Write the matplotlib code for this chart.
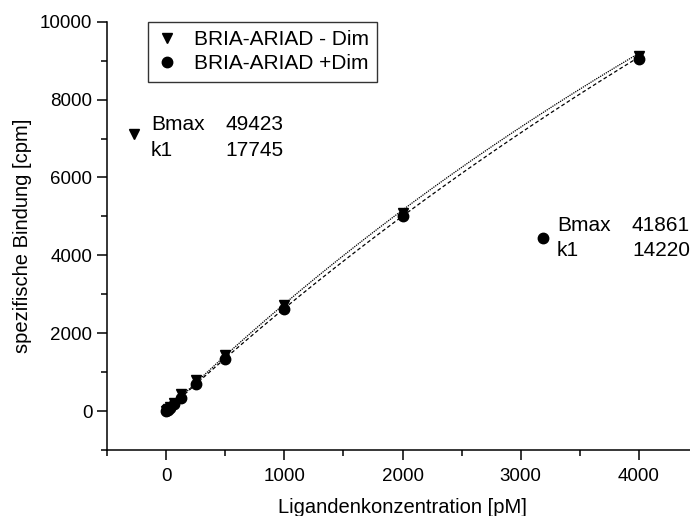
import matplotlib.pyplot as plt
import numpy as np
from matplotlib.ticker import MultipleLocator

plt.rcParams["font.family"] = ["Liberation Sans", "DejaVu Sans"]

# ligand concentrations [pM]
conc = [0, 7.8, 15.6, 31.25, 62.5, 125, 250, 500, 1000, 2000, 4000]
# specific binding [cpm]
bind_minus_dim = [0, 30, 60, 110, 220, 440, 800, 1430, 2730, 5100, 9120]
bind_plus_dim = [0, 20, 40, 80, 170, 340, 690, 1340, 2630, 5000, 9050]

# one-site binding fit parameters
fit_a = {"Bmax": 49423, "k1": 17745}
fit_b = {"Bmax": 41861, "k1": 14220}

label_minus = "BRIA-ARIAD - Dim"
label_plus = "BRIA-ARIAD +Dim"


def one_site(x, bmax, k1):
    return bmax * x / (k1 + x)


def param_block(ax, marker, mx, my, tx, vx, y_top, y_bot, fit):
    ax.plot([mx], [my], marker=marker, markersize=7.5, color="black", clip_on=False)
    ax.text(tx, y_top, "Bmax", fontsize=15, va="center", ha="left")
    ax.text(vx, y_top, str(fit["Bmax"]), fontsize=15, va="center", ha="left")
    ax.text(tx, y_bot, "k1", fontsize=15, va="center", ha="left")
    ax.text(vx, y_bot, str(fit["k1"]), fontsize=15, va="center", ha="left")


fig = plt.figure(figsize=(6.9, 5.16), dpi=100)
ax = fig.add_axes([0.1551, 0.1279, 0.8565, 0.830])

xs = np.linspace(0, 4000, 200)
ax.plot(xs, one_site(xs, fit_b["Bmax"], fit_b["k1"]), color="black",
        linestyle=(0, (1, 0.8)), linewidth=0.9)
ax.plot(xs, one_site(xs, fit_a["Bmax"], fit_a["k1"]), color="black",
        linestyle=(0, (3, 2)), linewidth=0.9)

ax.plot(conc, bind_minus_dim, linestyle="none", marker="v", markersize=7.5,
        color="black", label=label_minus)
ax.plot(conc, bind_plus_dim, linestyle="none", marker="o", markersize=7.5,
        color="black", label=label_plus)

param_block(ax, "v", -271, 7127, -127, 500, 7350, 6700, fit_a)
param_block(ax, "o", 3186, 4444, 3305, 3941, 4777, 4112, fit_b)

ax.set_xlim(-500, 4500)
ax.set_ylim(-1000, 10000)
ax.xaxis.set_minor_locator(MultipleLocator(500))
ax.yaxis.set_minor_locator(MultipleLocator(1000))
ax.set_xticks([0, 1000, 2000, 3000, 4000])
ax.set_yticks([0, 2000, 4000, 6000, 8000, 10000])

for side in ("top", "right"):
    ax.spines[side].set_visible(False)
for side in ("left", "bottom"):
    ax.spines[side].set_linewidth(1.1)
ax.tick_params(which="major", direction="out", length=7, width=1.1, labelsize=13.5)
ax.tick_params(axis="x", which="major", pad=6)
ax.tick_params(which="minor", direction="out", length=4, width=1.1)

ax.set_xlabel("Ligandenkonzentration [pM]", fontsize=14.5, labelpad=9)
ax.set_ylabel("spezifische Bindung [cpm]", fontsize=14.5, labelpad=6)

leg = ax.legend(loc="upper left", bbox_to_anchor=(0.2145, 0.958),
                bbox_transform=fig.transFigure, borderaxespad=0, fontsize=15,
                frameon=True, fancybox=False, handlelength=1.0,
                handletextpad=0.8, borderpad=0.4, labelspacing=0.25)
leg.get_frame().set_edgecolor("black")
leg.get_frame().set_linewidth(1.0)

fig.savefig("out.png", dpi=100)
